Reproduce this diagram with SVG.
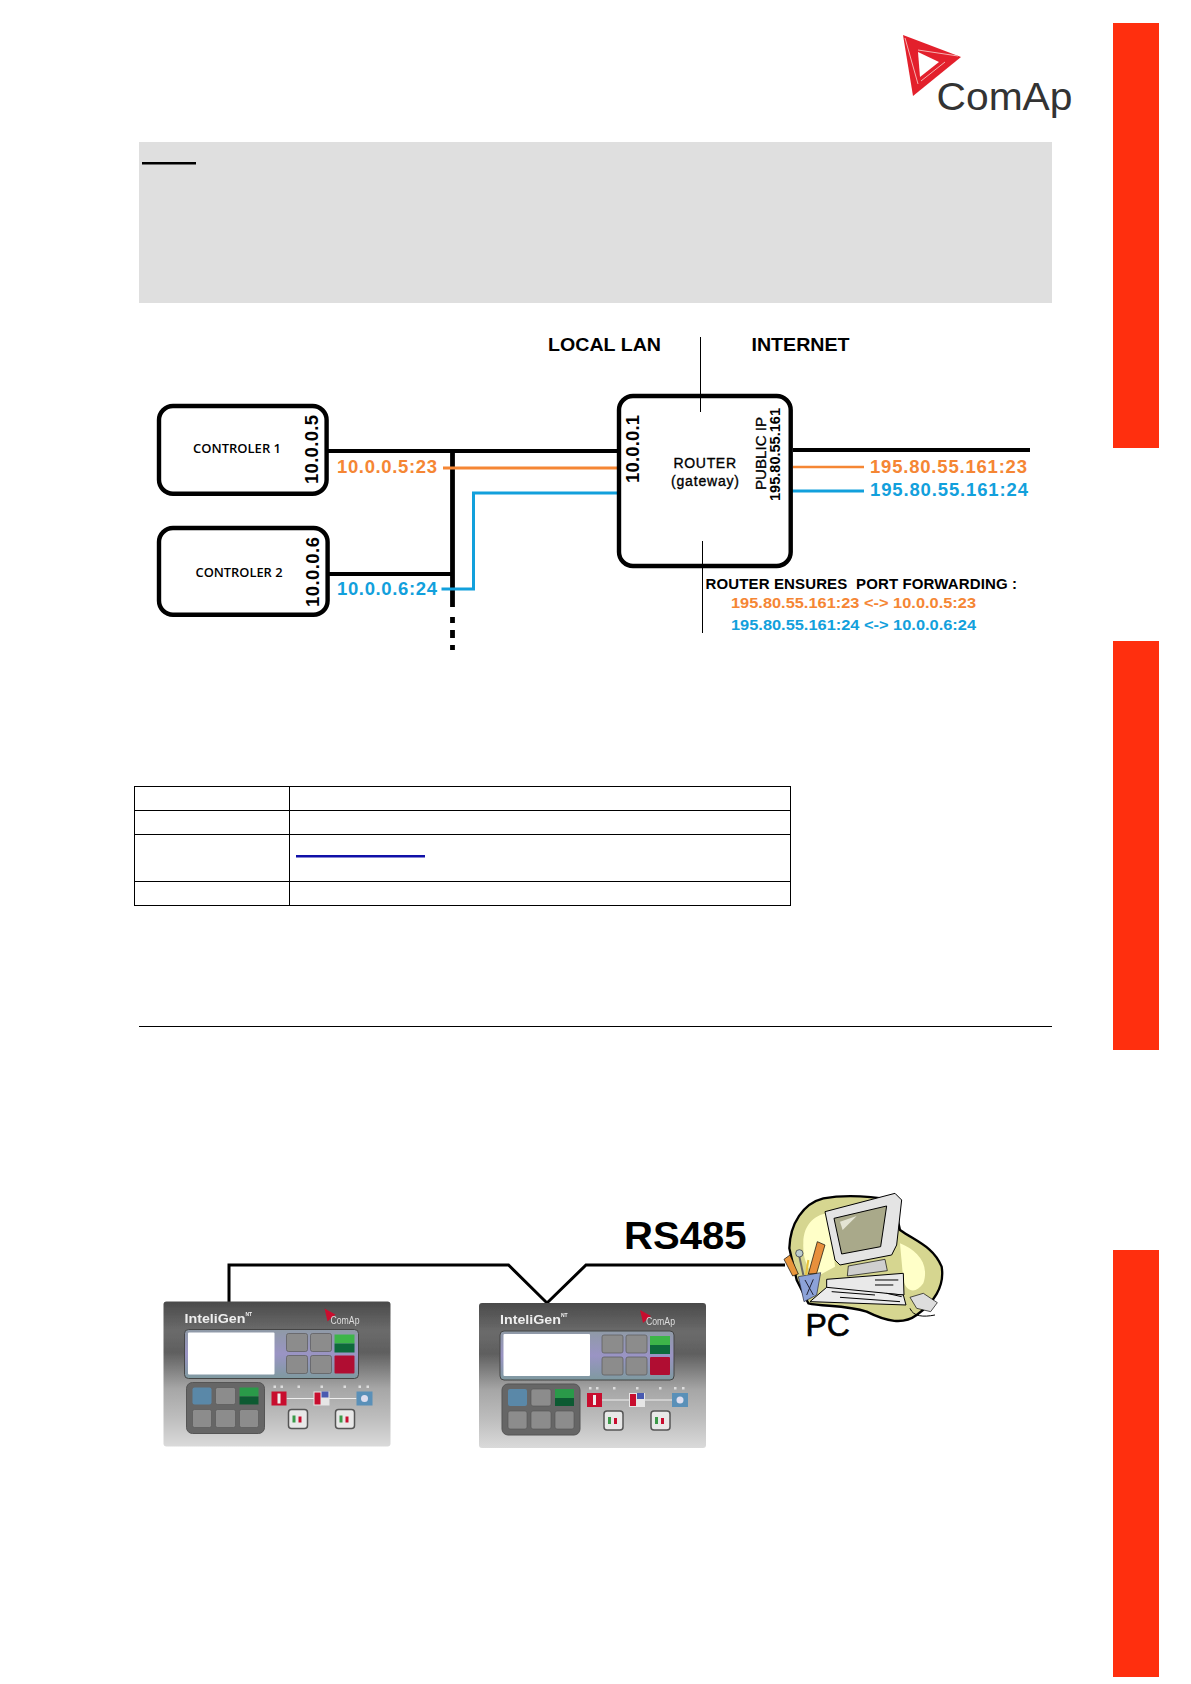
<svg xmlns="http://www.w3.org/2000/svg" xmlns:xlink="http://www.w3.org/1999/xlink" width="1191" height="1684" viewBox="0 0 1191 1684">
<style>
text{font-family:"Liberation Sans",Arial,sans-serif;font-weight:700;fill:#000}
.box{fill:#fff;stroke:#000;stroke-width:4.4}
.thick{fill:none;stroke:#000;stroke-width:4.2}
.thin{fill:none;stroke:#000;stroke-width:1}
.or{fill:none;stroke:#f58634;stroke-width:3}
.bl{fill:none;stroke:#12a0dc;stroke-width:3}
.tor{fill:#f58634}.tbl{fill:#12a0dc}
.ctl{font-family:"Open Sans","Liberation Sans",sans-serif;font-weight:600;font-size:13px}
.tb{fill:none;stroke:#000;stroke-width:1}
.key{fill:#8c8c8c;stroke:#5a5a5a;stroke-width:.7}
.led{fill:#ddd}
.clip{stroke:#000;stroke-width:3;stroke-linejoin:round}
</style>
<defs>
<linearGradient id="pg" x1="0" y1="0" x2="0" y2="1">
<stop offset="0" stop-color="#4a4a4a"/><stop offset=".2" stop-color="#6b6b6b"/><stop offset=".35" stop-color="#5f5f5f"/><stop offset=".6" stop-color="#a6a6a6"/><stop offset=".8" stop-color="#bdbdbd"/><stop offset="1" stop-color="#dadada"/>
</linearGradient>
<linearGradient id="hg" x1="0" y1="0" x2="0" y2="1">
<stop offset="0" stop-color="#8f9aa6"/><stop offset=".5" stop-color="#9a94c4"/><stop offset="1" stop-color="#7f9aa0"/>
</linearGradient>
<filter id="soft" x="-5%" y="-5%" width="110%" height="110%"><feGaussianBlur stdDeviation=".6"/></filter>
<g id="panel" filter="url(#soft)">
<rect x="0" y="0" width="227" height="145" rx="3" fill="url(#pg)"/>
<text x="21" y="21" font-size="13" textLength="61" lengthAdjust="spacingAndGlyphs" style="fill:#eee">InteliGen</text>
<text x="82" y="14" font-size="5" style="fill:#eee">NT</text>
<polygon points="161,7 172,13 164,20" fill="#c8102e"/>
<text x="167" y="22" font-size="10" textLength="29" lengthAdjust="spacingAndGlyphs" style="fill:#ddd;font-weight:400">ComAp</text>
<rect x="21" y="28" width="174" height="49" rx="4" fill="url(#hg)" stroke="#444"/>
<rect x="24.500" y="31" width="86.500" height="42" rx="1" fill="#fff"/>
<rect class="key" x="123" y="32" width="21" height="18" rx="2"/><rect class="key" x="147" y="32" width="21" height="18" rx="2"/>
<rect class="key" x="123" y="54" width="21" height="18" rx="2"/><rect class="key" x="147" y="54" width="21" height="18" rx="2"/>
<rect x="171" y="33" width="20" height="9" fill="#3cb54a"/><rect x="171" y="42" width="20" height="9" fill="#0b6b3a"/>
<rect x="171" y="54" width="20" height="18" rx="1" fill="#b01030"/>
<rect x="23" y="81" width="78" height="51" rx="6" fill="#666" stroke="#555"/>
<rect x="29" y="86" width="19" height="17" rx="2" fill="#5a88a8"/>
<rect class="key" x="52" y="86" width="20" height="17" rx="2"/>
<rect x="76" y="86" width="19" height="9" fill="#2a9a4a"/><rect x="76" y="95" width="19" height="8" fill="#115a30"/>
<rect class="key" x="29" y="108" width="19" height="18" rx="2"/><rect class="key" x="52" y="108" width="20" height="18" rx="2"/><rect class="key" x="76" y="108" width="19" height="18" rx="2"/>
<rect class="led" x="110" y="84" width="2.500" height="2.500"/><rect class="led" x="117" y="84" width="2.500" height="2.500"/><rect class="led" x="134" y="84" width="2.500" height="2.500"/><rect class="led" x="157" y="84" width="2.500" height="2.500"/><rect class="led" x="180" y="84" width="2.500" height="2.500"/><rect class="led" x="195" y="84" width="2.500" height="2.500"/><rect class="led" x="203" y="84" width="2.500" height="2.500"/>
<line x1="123" y1="97" x2="193" y2="97" stroke="#eee" stroke-width="1"/>
<rect x="108" y="90" width="15" height="14" fill="#c8102e"/><rect x="114" y="92" width="3" height="10" fill="#eee"/>
<rect x="150" y="90" width="16" height="14" fill="#e6e6e6"/><rect x="151" y="91" width="6" height="12" fill="#c8102e"/><rect x="158" y="90" width="7" height="6" fill="#4a5ab0"/>
<rect x="193" y="90" width="16" height="14" fill="#5a90b8"/><circle cx="201" cy="97" r="3.500" fill="#dde"/>
<rect x="125" y="108" width="19" height="19" rx="3" fill="#e8e8e8" stroke="#555" stroke-width="1.500"/><rect x="129" y="114" width="3" height="7" fill="#3a9a4a"/><rect x="135" y="115" width="3" height="6" fill="#c8102e"/>
<rect x="172" y="108" width="19" height="19" rx="3" fill="#e8e8e8" stroke="#555" stroke-width="1.500"/><rect x="176" y="114" width="3" height="7" fill="#3a9a4a"/><rect x="182" y="115" width="3" height="6" fill="#c8102e"/>
</g>
</defs>

<g id="side-bars" fill="#ff2f0e">
<rect x="1113" y="23" width="46" height="425"/>
<rect x="1113" y="641" width="46" height="409"/>
<rect x="1113" y="1250" width="46" height="427"/>
</g>

<g id="logo">
<polygon points="903,35 961,57 913,96" fill="#e3202c"/>
<polygon points="918,52 939,62 920,77" fill="#fff"/>
<polyline points="905,38 918,84" fill="none" stroke="#f6b0b0" stroke-width="1"/>
<polyline points="918,50 958,56" fill="none" stroke="#f6b0b0" stroke-width="1"/>
<polyline points="921,81 945,62" fill="none" stroke="#f6b0b0" stroke-width="1"/>
<text x="936.500" y="110" font-size="39" textLength="136" lengthAdjust="spacingAndGlyphs" style="font-weight:400;fill:#333">ComAp</text>
</g>

<g id="note-box">
<rect x="139" y="142" width="913" height="161" fill="#dfdfdf"/>
<rect x="142" y="162" width="54" height="2.500" fill="#000"/>
</g>

<g id="connectors">
<line class="thick" x1="328" y1="451" x2="618" y2="451"/>
<line class="thick" x1="329" y1="574" x2="453" y2="574"/>
<line class="thick" x1="452.500" y1="451" x2="452.500" y2="607" style="stroke-width:4.800"/>
<path class="thick" d="M452.500 617V623M452.500 630V638M452.500 645V650" style="stroke-width:4.800"/>
<line class="thick" x1="793" y1="450" x2="1030" y2="450"/>
<line class="or" x1="443" y1="468" x2="618" y2="468"/>
<polyline class="bl" points="441.500,589 473.500,589 473.500,493 618,493"/>
<line class="or" x1="793" y1="467" x2="864" y2="467" style="stroke-width:2.500"/>
<line class="bl" x1="791" y1="491" x2="864" y2="491"/>
<polyline points="229,1302 229,1265 508.500,1265 547,1303 586,1265 785,1265" fill="none" stroke="#000" stroke-width="3"/>
</g>

<g id="controler-1">
<rect class="box" x="159" y="406" width="167.600" height="87.700" rx="14"/>
<text class="ctl" x="193" y="453" textLength="88" lengthAdjust="spacingAndGlyphs">CONTROLER 1</text>
<text transform="translate(318 484) rotate(-90)" font-size="18.500" textLength="69">10.0.0.5</text>
</g>
<g id="controler-2">
<rect class="box" x="159" y="528" width="168.600" height="86.700" rx="14"/>
<text class="ctl" x="195.500" y="577" textLength="87" lengthAdjust="spacingAndGlyphs">CONTROLER 2</text>
<text transform="translate(318.500 607) rotate(-90)" font-size="18.500" textLength="70">10.0.0.6</text>
</g>
<g id="router">
<rect class="box" x="619" y="396" width="171.700" height="170" rx="14"/>
<text x="673.500" y="468" font-size="14" textLength="62.500" style="font-weight:400;stroke:#000;stroke-width:.35">ROUTER</text>
<text x="671" y="486" font-size="14" textLength="68" style="font-weight:400;stroke:#000;stroke-width:.35">(gateway)</text>
<text transform="translate(638.500 483) rotate(-90)" font-size="18.500" textLength="68">10.0.0.1</text>
<text transform="translate(765.500 490) rotate(-90)" font-size="15.500" textLength="73" lengthAdjust="spacingAndGlyphs" style="font-weight:400;stroke:#000;stroke-width:.3">PUBLIC IP</text>
<text transform="translate(780 501) rotate(-90)" font-size="14.500" textLength="93">195.80.55.161</text>
<line class="thin" x1="700.500" y1="337" x2="700.500" y2="412"/>
<line class="thin" x1="702.500" y1="541" x2="702.500" y2="633"/>
</g>

<g id="labels">
<text x="548" y="351" font-size="19" textLength="113" lengthAdjust="spacingAndGlyphs">LOCAL LAN</text>
<text x="751.500" y="351" font-size="19" textLength="98" lengthAdjust="spacingAndGlyphs">INTERNET</text>
<text class="tor" x="337" y="473" font-size="18.500" textLength="100">10.0.0.5:23</text>
<text class="tbl" x="337" y="595" font-size="18.500" textLength="100">10.0.0.6:24</text>
<text class="tor" x="870" y="473" font-size="18.500" textLength="157">195.80.55.161:23</text>
<text class="tbl" x="870" y="496" font-size="18.500" textLength="158">195.80.55.161:24</text>
<text x="705.500" y="589" font-size="15" textLength="311.500" xml:space="preserve">ROUTER ENSURES  PORT FORWARDING :</text>
<text class="tor" x="731" y="608" font-size="15.500" textLength="245" lengthAdjust="spacingAndGlyphs">195.80.55.161:23 &lt;-&gt; 10.0.0.5:23</text>
<text class="tbl" x="731" y="630" font-size="15.500" textLength="245" lengthAdjust="spacingAndGlyphs">195.80.55.161:24 &lt;-&gt; 10.0.0.6:24</text>
<text x="624" y="1249" font-size="39" textLength="122.500" lengthAdjust="spacingAndGlyphs">RS485</text>
</g>

<g id="table">
<rect class="tb" x="134.500" y="786.500" width="656" height="119"/>
<path class="tb" d="M289.500 786.500V905.500M134.500 810.500H790.500M134.500 834.500H790.500M134.500 881.500H790.500"/>
<rect x="296" y="855" width="129" height="2.500" fill="#1010a8"/>
</g>

<line id="rule" x1="139" y1="1026.500" x2="1052" y2="1026.500" stroke="#000" stroke-width="1"/>

<g id="panel-1"><use href="#panel" x="163.500" y="1301.500"/></g>
<g id="panel-2"><use href="#panel" x="479" y="1303"/></g>

<g id="pc" transform="translate(760 1180) scale(.3333)">
<path class="clip" d="M88 205C90 130 130 70 190 55C260 42 340 50 400 60L420 150C470 185 520 200 545 260C555 320 520 370 470 405C430 435 380 425 320 395C260 375 190 380 145 370L110 300Z" fill="#d6d690" style="stroke-width:7"/>
<path d="M130 190C130 130 170 100 210 100L225 260L170 290C140 270 128 230 130 190ZM420 190C470 210 510 250 490 310C470 340 440 340 430 300Z" fill="#ffffc8"/>
<polygon class="clip" points="195,95 405,40 425,60 410,195 395,225 240,255 225,240" fill="#e4e4e4"/>
<polygon class="clip" points="222,115 380,78 362,200 245,222" fill="#a9a98a"/>
<polygon points="240,125 290,108 248,150" fill="#e4e4d4"/>
<polygon class="clip" points="265,258 375,238 382,272 262,288" fill="#cfcfcf" style="stroke-width:2"/>
<polygon class="clip" points="200,298 430,280 432,345 200,328" fill="#e9e9e9"/>
<path d="M345 300H415M345 315H400" stroke="#000" stroke-width="3" fill="none"/>
<polygon class="clip" points="200,322 430,345 438,375 150,365" fill="#ececec"/>
<path d="M215 335L345 345M240 352L420 365M380 340L425 350" stroke="#000" stroke-width="3" fill="none"/>
<polygon class="clip" points="450,352 490,340 532,368 512,395 470,385" fill="#ddd" style="stroke-width:2"/>
<path d="M450 385C460 410 490 412 525 405" fill="none" stroke="#000" stroke-width="3"/>
<polygon points="115,290 182,278 170,345 132,365" fill="#8ca2d8" stroke="#223" stroke-width="2"/>
<path d="M135 300L160 345M160 298L140 345" stroke="#223" stroke-width="3" fill="none"/>
<polygon class="clip" points="72,238 90,225 115,282 98,288" fill="#e8963c" style="stroke-width:2"/>
<polygon class="clip" points="145,282 172,185 195,195 170,280" fill="#e8903c" style="stroke-width:2"/>
<polyline points="115,215 130,285" fill="none" stroke="#666" stroke-width="6"/>
<circle cx="118" cy="220" r="11" fill="#bcc" stroke="#223" stroke-width="2"/>
<line x1="145" y1="240" x2="138" y2="285" stroke="#e8c23c" stroke-width="6"/>
</g>
<text id="pc-label" x="805.500" y="1335.500" font-size="31" textLength="44.500" lengthAdjust="spacingAndGlyphs" style="font-weight:400;stroke:#000;stroke-width:.6">PC</text>
</svg>
